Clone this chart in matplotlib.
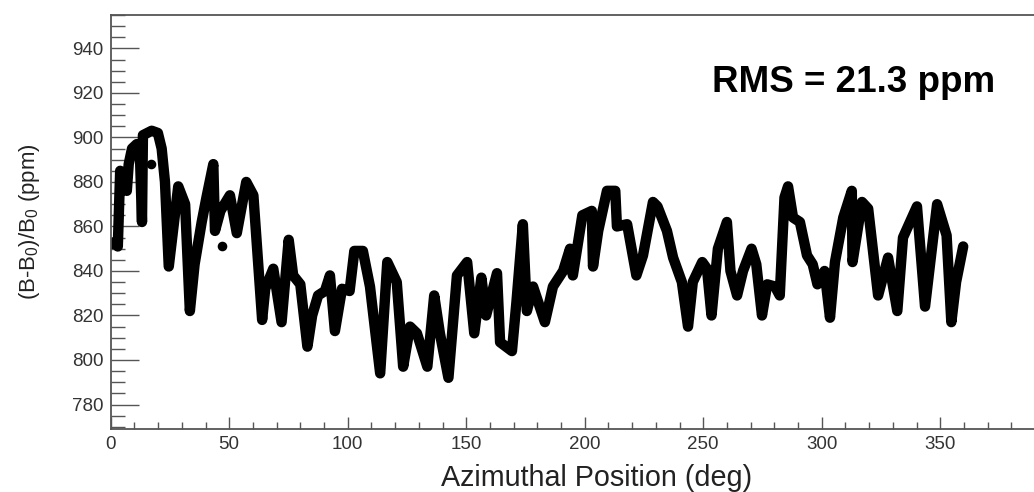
import matplotlib
matplotlib.use('Agg')
import matplotlib.pyplot as plt
from matplotlib.ticker import MultipleLocator

plt.rcParams['font.family'] = ['Liberation Sans', 'DejaVu Sans']
plt.rcParams['mathtext.fontset'] = 'custom'
plt.rcParams['mathtext.rm'] = 'Liberation Sans'

# azimuthal position (deg) and field deviation (ppm)
azimuth = [0, 1.7, 3, 4, 5.2, 6.8, 7.6, 9, 11, 12.4, 13.2, 13.6, 17.3, 19.9, 21.5,
           22.9, 24.5, 26.5, 28.5, 31.4, 33.4, 35.4, 38.4, 40.4, 43.3, 44, 46.3,
           50.3, 53.2, 57.2, 60.2, 63.9, 65.2, 68.6, 72.1, 75.1, 77, 80, 83, 85,
           87.5, 90.4, 92.5, 94.6, 97.6, 100.8, 102.8, 106.4, 109.4, 113.7, 116.7,
           120.7, 123.4, 126.3, 129.2, 133.6, 136.5, 138.9, 142.5, 146.1, 150.4,
           153.4, 156.4, 158.4, 163, 164.3, 169.3, 171.2, 173.9, 175.6, 178.2,
           183.2, 186.6, 190.9, 193.8, 195, 199, 203, 203.5, 205.7, 209.4, 212.9,
           213.6, 217.9, 221.8, 224.6, 228.8, 230.7, 234.7, 237.3, 241, 243.6,
           245.6, 249.6, 251.6, 253.5, 256.2, 260, 261.5, 264.3, 266.8, 270.4,
           272.4, 274.8, 277, 280.3, 282.3, 284.3, 285.8, 287.9, 290.8, 293.8,
           296.2, 298.2, 301.2, 303.5, 305.6, 309.1, 312.7, 313, 317, 319.6, 323.8,
           328, 331.9, 334.3, 340.2, 343.6, 348.7, 352.7, 354.7, 356.7, 359.7]
dev = [852, 853, 851, 885, 878, 876, 888, 895, 897, 890, 862, 901, 903, 902, 895,
       880, 842, 860, 878, 870, 822, 843, 862, 873, 888, 858, 867,
       874, 857, 880, 874, 818, 832, 841, 817, 854, 838, 834, 806, 820,
       829, 831, 838, 813, 832, 831, 849, 849, 833, 794, 844,
       835, 797, 815, 812, 797, 829, 812, 792, 838, 844,
       812, 837, 820, 839, 808, 804, 826, 861, 822, 833,
       817, 833, 840, 850, 838, 865, 867, 842, 858, 876, 876,
       860, 861, 838, 847, 871, 869, 858, 846, 835, 815,
       835, 844, 841, 820, 850, 862, 840, 829, 840, 850,
       843, 820, 834, 833, 829, 873, 878, 864, 862, 847,
       843, 834, 840, 819, 844, 864, 876, 844, 871, 868, 829,
       846, 822, 855, 869, 824, 870, 856, 817, 835, 851]

stray_x = [17, 47]
stray_y = [888, 851]

fig = plt.figure(figsize=(10.34, 4.92), dpi=100)
ax = fig.add_axes([110.7/1034, 1-429/492, 395*2.37/1034, 414/492])

ax.plot(azimuth, dev, color='black', lw=7.5, solid_joinstyle='round',
        solid_capstyle='round')
ax.scatter(stray_x, stray_y, color='black', s=35, zorder=3)

ax.set_xlim(0, 395)
ax.set_ylim(769, 955)
ax.xaxis.set_major_locator(MultipleLocator(50))
ax.xaxis.set_minor_locator(MultipleLocator(10))
ax.yaxis.set_major_locator(MultipleLocator(20))
ax.yaxis.set_minor_locator(MultipleLocator(5))

ax.tick_params(which='both', direction='in', top=False, right=False,
               color='#555555', width=1, labelsize=13.5, labelcolor='#333333', pad=5)
ax.tick_params(axis='y', which='major', length=20)
ax.tick_params(axis='y', which='minor', length=10)
ax.tick_params(axis='x', which='major', length=9)
ax.tick_params(axis='x', which='minor', length=5)
for s in ax.spines.values():
    s.set_color('#555555')
    s.set_linewidth(1.3)

fig.text(597/1034, 1-478/492, 'Azimuthal Position (deg)', fontsize=20.7,
         ha='center', va='center', color='#222222')
fig.text(30/1034, 1-222/492, '(B-B$_0$)/B$_0$ (ppm)', fontsize=16,
         rotation=90, ha='center', va='center', color='#222222')
fig.text(712/1034, 1-82/492, 'RMS = 21.3 ppm', fontsize=26.5, fontweight='bold',
         ha='left', va='center')

fig.savefig('out.png', dpi=100)
